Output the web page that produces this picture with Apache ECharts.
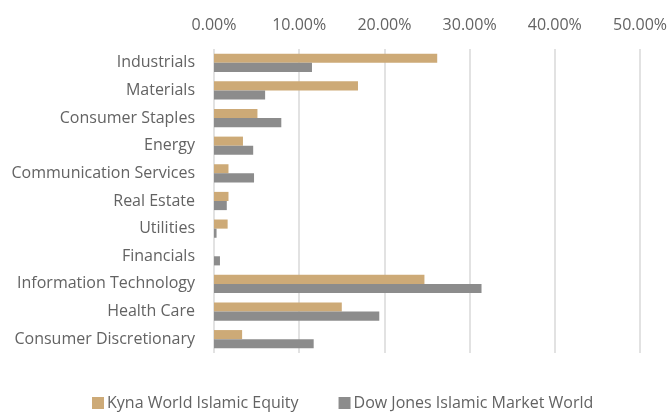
<!DOCTYPE html>
<html><head><meta charset="utf-8">
<script src="https://cdn.jsdelivr.net/npm/echarts@6/dist/echarts.min.js"></script>
<style>html,body{margin:0;padding:0;background:#fff}#c{width:670px;height:412px}</style>
</head><body><div id="c"></div>
<script>
var categories = ["Industrials","Materials","Consumer Staples","Energy","Communication Services","Real Estate","Utilities","Financials","Information Technology","Health Care","Consumer Discretionary"];
var kyna = [26.2, 16.9, 5.1, 3.4, 1.7, 1.7, 1.6, 0, 24.7, 15.0, 3.3];
var dowJones = [11.5, 6.0, 7.9, 4.6, 4.7, 1.5, 0.3, 0.7, 31.4, 19.4, 11.7];
var xTicks = [0, 10, 20, 30, 40, 50];

var chart = echarts.init(document.getElementById('c'));
var font = 'Open Sans';
var txt = '#636363';
chart.setOption({
  animation: false,
  grid: {left: 214, right: 30, top: 49, bottom: 59, containLabel: false},
  legend: {
    top: 395, left: 92, padding: 0, itemGap: 40, itemWidth: 12, itemHeight: 12, icon: 'rect',
    textStyle: {color: txt, fontSize: 16, fontFamily: font, padding: [0, 0, 0, -2]},
    data: ['Kyna World Islamic Equity', 'Dow Jones Islamic Market World']
  },
  xAxis: {
    type: 'value', position: 'top', min: xTicks[0], max: xTicks[xTicks.length-1], interval: 10,
    axisLine: {show: false}, axisTick: {show: false},
    splitLine: {lineStyle: {color: '#d9d9d9', width: 1.5}},
    axisLabel: {color: txt, fontSize: 16, fontFamily: font, margin: 16,
      formatter: function(v){ return v.toFixed(2) + '%'; }}
  },
  yAxis: {
    type: 'category', data: categories, inverse: true,
    axisLine: {show: false}, axisTick: {show: false},
    axisLabel: {color: txt, fontSize: 16, fontFamily: font, margin: 19}
  },
  series: [
    {name: 'Kyna World Islamic Equity', type: 'bar', data: kyna, barGap: '0%', barCategoryGap: '34%',
     itemStyle: {color: '#CDAA77'}},
    {name: 'Dow Jones Islamic Market World', type: 'bar', data: dowJones, barGap: '0%', barCategoryGap: '34%',
     itemStyle: {color: '#8C8C8C'}}
  ]
});
</script></body></html>
